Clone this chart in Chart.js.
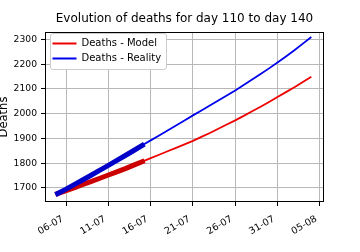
<!DOCTYPE html>
<html>
<head>
<meta charset="utf-8">
<script src="https://cdn.jsdelivr.net/npm/chart.js@4.4.1/dist/chart.umd.min.js"></script>
<style>
  html, body { margin: 0; padding: 0; background: #fff; }
  #wrap { width: 360px; height: 252px; }
</style>
</head>
<body>
<div id="wrap"><canvas id="chart"></canvas></div>
<script>
// ---- Données ------------------------------------------------------------
// jours 110 .. 140 (05-07 .. 04-08)
const days = [110, 111, 112, 113, 114, 115, 116, 117, 118, 119, 120,
              121, 122, 123, 124, 125, 126, 127, 128, 129, 130,
              131, 132, 133, 134, 135, 136, 137, 138, 139, 140];

const deathsReality = [1677, 1695, 1714, 1733, 1752, 1772, 1791, 1811, 1831, 1851, 1872,
                       1892, 1912, 1932, 1952, 1972, 1993, 2013, 2033, 2053, 2073,
                       2094, 2116, 2138, 2160, 2183, 2207, 2231, 2256, 2283, 2310];

const deathsModel   = [1677, 1689, 1701, 1714, 1726, 1739, 1752, 1765, 1778, 1792, 1806,
                       1820, 1834, 1848, 1862, 1876, 1890, 1906, 1922, 1939, 1956,
                       1973, 1991, 2010, 2028, 2047, 2067, 2087, 2107, 2128, 2149];

// nombre de jours tracés en trait épais (période observée)
const observedCount = 11;

const tickDays   = [111, 116, 121, 126, 131, 136, 141];
const tickLabels = ['06-07', '11-07', '16-07', '21-07', '26-07', '31-07', '05-08'];

const xMin = 108.5, xMax = 141.5;
const yMin = 1643,  yMax = 2330;

// ---- Helpers -------------------------------------------------------------
const toXY = (xs, ys) => xs.map((x, i) => ({ x, y: ys[i] }));

Chart.defaults.font.family = "'DejaVu Sans', sans-serif";
Chart.defaults.color = '#000';

// cadre de la légende + bordure complète des axes (style matplotlib)
const frame = {
    id: 'frame',
    afterLayout(chart) {
        const L = chart.legend, a = chart.chartArea, T = chart.titleBlock;
        const dx = a.left + 2.5 - L.left;
        const dy = a.top + 1.5 - L.top;
        L.left += dx; L.right += dx;
        L.top  += dy; L.bottom += dy;
        // titre centré sur la zone du graphique
        const tx = (a.left + a.right) / 2 - (T.left + T.right) / 2;
        T.left += tx; T.right += tx;
    },
    afterDraw(chart) {
        const { ctx, chartArea: a, legend: L } = chart;
        const lab = L.options.labels;
        const fs = lab.font.size, pad = lab.padding;
        ctx.save();
        ctx.font = fs + "px 'DejaVu Sans'";
        const textW = Math.max(...L.legendItems.map(it => ctx.measureText(it.text).width));
        const x0 = L.left + pad;
        const c1 = L.top + pad + fs / 2;
        const c2 = c1 + (L.legendItems.length - 1) * (fs + pad);
        const fx = x0 - 2.5, fy = c1 - 10.5;
        const fw = lab.pointStyleWidth + fs / 2 + textW + 7.5;
        const fh = c2 - c1 + 21;
        ctx.fillStyle = '#fff';
        ctx.strokeStyle = '#cccccc';
        ctx.lineWidth = 1;
        ctx.beginPath();
        ctx.roundRect(Math.round(fx) + 0.5, Math.round(fy) + 0.5, Math.round(fw), Math.round(fh), 2.5);
        ctx.fill();
        ctx.stroke();
        ctx.restore();
        L.draw();

        ctx.save();
        ctx.strokeStyle = '#000';
        ctx.lineWidth = 1;
        ctx.strokeRect(Math.round(a.left) + 0.5, Math.round(a.top) + 0.5,
                       Math.round(a.right - a.left) - 1, Math.round(a.bottom - a.top) - 1);
        ctx.restore();
    }
};

// ---- Graphique -----------------------------------------------------------
new Chart(document.getElementById('chart'), {
    type: 'line',
    data: {
        datasets: [
            {
                label: 'Reality (observed)',
                data: toXY(days.slice(0, observedCount), deathsReality),
                borderColor: '#0000c8',
                borderWidth: 5,
                borderCapStyle: 'square'
            },
            {
                label: 'Model (observed)',
                data: toXY(days.slice(0, observedCount), deathsModel),
                borderColor: '#cc0000',
                borderWidth: 5,
                borderCapStyle: 'square'
            },
            {
                label: 'Deaths - Reality',
                data: toXY(days, deathsReality),
                borderColor: '#0000ee',
                borderWidth: 1.8
            },
            {
                label: 'Deaths - Model',
                data: toXY(days, deathsModel),
                borderColor: '#ee0000',
                borderWidth: 1.8
            }
        ]
    },
    options: {
        responsive: true,
        maintainAspectRatio: false,
        animation: false,
        events: [],
        layout: { padding: { left: 0, right: 36, top: 0, bottom: 0 } },
        elements: {
            point: { radius: 0 },
            line: { tension: 0, fill: false }
        },
        plugins: {
            title: {
                display: true,
                text: 'Evolution of deaths for day 110 to day 140',
                font: { size: 12, weight: 'normal' },
                padding: { top: 12, bottom: 5.6 }
            },
            legend: {
                position: 'chartArea',
                align: 'start',
                labels: {
                    font: { size: 10 },
                    padding: 5,
                    usePointStyle: true,
                    pointStyle: 'line',
                    pointStyleWidth: 24,
                    filter: item => item.datasetIndex >= 2,
                    sort: (a, b) => b.datasetIndex - a.datasetIndex,
                    generateLabels(chart) {
                        return Chart.defaults.plugins.legend.labels.generateLabels(chart)
                            .map(it => Object.assign(it, { lineWidth: 2.2 }));
                    }
                }
            },
            tooltip: { enabled: false }
        },
        scales: {
            x: {
                type: 'linear',
                min: xMin,
                max: xMax,
                afterBuildTicks: scale => { scale.ticks = tickDays.map(v => ({ value: v })); },
                afterFit: scale => { scale.height = 50; },
                ticks: {
                    autoSkip: false,
                    minRotation: 30,
                    maxRotation: 30,
                    padding: 7.5,
                    labelOffset: -3.5,
                    font: { size: 9.5 },
                    callback: value => tickLabels[tickDays.indexOf(value)]
                },
                grid: { color: '#b8b8b8', tickColor: '#000', tickLength: 4 },
                border: { display: false }
            },
            y: {
                min: yMin,
                max: yMax,
                afterFit: scale => { scale.width = 45; },
                ticks: {
                    stepSize: 100,
                    includeBounds: false,
                    padding: 4,
                    font: { size: 9.2 },
                    callback: value => String(value)
                },
                grid: { color: '#b8b8b8', tickColor: '#000', tickLength: 4 },
                border: { display: false },
                title: {
                    display: true,
                    text: 'Deaths',
                    font: { size: 11.5, lineHeight: 0.75 },
                    padding: 0
                }
            }
        }
    },
    plugins: [frame]
});
</script>
</body>
</html>
